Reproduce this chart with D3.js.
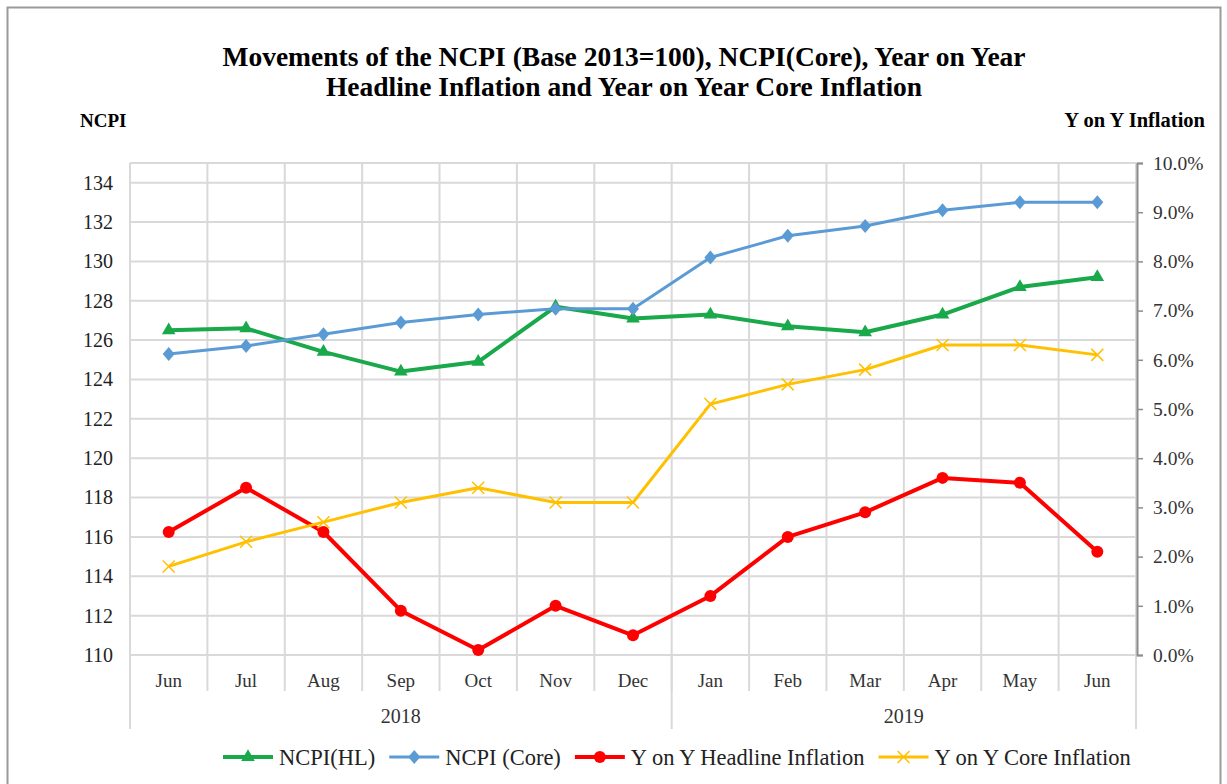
<!DOCTYPE html>
<html>
<head>
<meta charset="utf-8">
<script src="https://cdn.jsdelivr.net/npm/d3@7"></script>
<style>
  body { margin: 0; background: #fff; }
  svg { font-family: "Liberation Serif", "Times New Roman", serif; }
</style>
</head>
<body>
<svg id="chart" width="1227" height="784"></svg>
<script>
// data
var months = ["Jun", "Jul", "Aug", "Sep", "Oct", "Nov", "Dec", "Jan", "Feb", "Mar", "Apr", "May", "Jun"];
var years = [{label: "2018", from: 0, to: 6}, {label: "2019", from: 7, to: 12}];
var ncpiHL = [126.5, 126.6, 125.4, 124.4, 124.9, 127.7, 127.1, 127.3, 126.7, 126.4, 127.3, 128.7, 129.2];
var ncpiCore = [125.3, 125.7, 126.3, 126.9, 127.3, 127.6, 127.6, 130.2, 131.3, 131.8, 132.6, 133.0, 133.0];
var yoyHeadline = [2.5, 3.4, 2.5, 0.9, 0.1, 1.0, 0.4, 1.2, 2.4, 2.9, 3.6, 3.5, 2.1];
var yoyCore = [1.8, 2.3, 2.7, 3.1, 3.4, 3.1, 3.1, 5.1, 5.5, 5.8, 6.3, 6.3, 6.1];
var leftTicks = d3.range(110, 135, 2);
var rightTicks = d3.range(0, 11, 1);

var svg = d3.select("#chart");

var margin = {top: 163, right: 91, bottom: 129, left: 130},
    width = 1227 - margin.left - margin.right,
    height = 784 - margin.top - margin.bottom;

// outer frame
svg.append("rect")
    .attr("x", 7.5).attr("y", 7.5)
    .attr("width", 1213).attr("height", 800)
    .attr("fill", "none")
    .attr("stroke", "#9a9a9a")
    .attr("stroke-width", 2);

// titles
svg.append("text")
    .attr("x", 624).attr("y", 66)
    .attr("text-anchor", "middle")
    .style("font-size", "27.5px").style("font-weight", "bold")
    .text("Movements of the NCPI (Base 2013=100), NCPI(Core), Year on Year");
svg.append("text")
    .attr("x", 624).attr("y", 96)
    .attr("text-anchor", "middle")
    .style("font-size", "27.5px").style("font-weight", "bold")
    .text("Headline Inflation and Year on Year Core Inflation");
svg.append("text")
    .attr("x", 80).attr("y", 127)
    .style("font-size", "19px").style("font-weight", "bold")
    .text("NCPI");
svg.append("text")
    .attr("x", 1205).attr("y", 127)
    .attr("text-anchor", "end")
    .style("font-size", "20.5px").style("font-weight", "bold")
    .text("Y on Y Inflation");

var g = svg.append("g")
    .attr("transform", "translate(" + margin.left + "," + margin.top + ")");

var x = d3.scaleBand()
    .domain(d3.range(months.length))
    .range([0, width]);

var yLeft = d3.scaleLinear().domain([110, 135]).range([height, 0]);
var yRight = d3.scaleLinear().domain([0, 10]).range([height, 0]);

var gridColor = "#d9d9d9";

// horizontal grid
g.selectAll(".hgrid")
    .data(leftTicks.concat([135]))
    .enter().append("line")
    .attr("x1", 0).attr("x2", width)
    .attr("y1", (d) => yLeft(d)).attr("y2", (d) => yLeft(d))
    .attr("stroke", gridColor).attr("stroke-width", 2);

// vertical grid (band boundaries) inside plot
g.selectAll(".vgrid")
    .data(d3.range(months.length + 1))
    .enter().append("line")
    .attr("x1", (d) => d === months.length ? width : x(d))
    .attr("x2", (d) => d === months.length ? width : x(d))
    .attr("y1", 0).attr("y2", height)
    .attr("stroke", gridColor).attr("stroke-width", 2);

// month separators below plot
g.selectAll(".msep")
    .data(d3.range(1, months.length))
    .enter().append("line")
    .attr("x1", (d) => x(d)).attr("x2", (d) => x(d))
    .attr("y1", height).attr("y2", height + 36)
    .attr("stroke", gridColor).attr("stroke-width", 2);

// year separators
var yearEdges = [0, x(years[1].from), width];
g.selectAll(".ysep")
    .data(yearEdges)
    .enter().append("line")
    .attr("x1", (d) => d).attr("x2", (d) => d)
    .attr("y1", height).attr("y2", height + 74)
    .attr("stroke", gridColor).attr("stroke-width", 2);

// month labels
g.selectAll(".mlabel")
    .data(months)
    .enter().append("text")
    .attr("x", (d, i) => x(i) + x.bandwidth() / 2)
    .attr("y", height + 32)
    .attr("text-anchor", "middle")
    .style("font-size", "19px").attr("fill", "#333")
    .text((d) => d);

// year labels
g.selectAll(".ylabel")
    .data(years)
    .enter().append("text")
    .attr("x", (d) => (x(d.from) + x(d.to) + x.bandwidth()) / 2)
    .attr("y", height + 68)
    .attr("text-anchor", "middle")
    .style("font-size", "20px").attr("fill", "#333")
    .text((d) => d.label);

// left axis
var leftAxis = g.append("g")
    .call(d3.axisLeft(yLeft).tickValues(leftTicks).tickSize(0).tickPadding(17));
leftAxis.select(".domain").remove();
leftAxis.selectAll("text")
    .style("font-size", "20px")
    .style("font-family", "Liberation Serif, serif")
    .attr("fill", "#222");

// right axis
var rightAxis = g.append("g")
    .attr("transform", "translate(" + (width + 1) + ",0)")
    .call(d3.axisRight(yRight).tickValues(rightTicks).tickSizeOuter(0).tickSize(6).tickPadding(10)
        .tickFormat((d) => d.toFixed(1) + "%"));
rightAxis.select(".domain").attr("stroke", "#8c8c8c").attr("stroke-width", 2);
rightAxis.selectAll("line").attr("stroke", "#8c8c8c").attr("stroke-width", 1.5);
rightAxis.selectAll("text")
    .style("font-size", "19.5px")
    .style("font-family", "Liberation Serif, serif")
    .attr("fill", "#333");

var cx = (i) => x(i) + x.bandwidth() / 2;

var series = [
    {name: "NCPI(HL)", values: ncpiHL, scale: yLeft, color: "#19a84a", width: 4, marker: "triangle"},
    {name: "NCPI (Core)", values: ncpiCore, scale: yLeft, color: "#5b9bd5", width: 3, marker: "diamond"},
    {name: "Y on Y Headline Inflation", values: yoyHeadline, scale: yRight, color: "#ff0000", width: 4, marker: "circle"},
    {name: "Y on Y Core Inflation", values: yoyCore, scale: yRight, color: "#ffc000", width: 3, marker: "cross"}
];

function drawMarker(sel, s) {
    if (s.marker === "triangle") {
        sel.append("path").attr("d", d3.symbol(d3.symbolTriangle, 80)())
            .attr("fill", s.color);
    } else if (s.marker === "diamond") {
        sel.append("path").attr("d", "M0,-7L6,0L0,7L-6,0Z")
            .attr("fill", s.color);
    } else if (s.marker === "circle") {
        sel.append("circle").attr("r", 6).attr("fill", s.color);
    } else {
        sel.append("path").attr("d", "M-6,-6L6,6M-6,6L6,-6")
            .attr("stroke", s.color).attr("stroke-width", 1.5).attr("fill", "none");
    }
}

series.forEach(function(s) {
    var line = d3.line()
        .x((d, i) => cx(i))
        .y((d) => s.scale(d));
    g.append("path")
        .datum(s.values)
        .attr("d", line)
        .attr("fill", "none")
        .attr("stroke", s.color)
        .attr("stroke-width", s.width)
        .attr("stroke-linejoin", "round");
    g.selectAll(null)
        .data(s.values)
        .enter().append("g")
        .attr("transform", (d, i) => "translate(" + cx(i) + "," + s.scale(d) + ")")
        .each(function() { drawMarker(d3.select(this), s); });
});

// legend, laid out left to right from measured text widths
var legend = svg.append("g").attr("transform", "translate(0,757)");
var lx = 223;
series.forEach(function(s) {
    var lg = legend.append("g");
    lg.append("line")
        .attr("x1", lx).attr("x2", lx + 50)
        .attr("y1", 0).attr("y2", 0)
        .attr("stroke", s.color).attr("stroke-width", s.width);
    var m = lg.append("g").attr("transform", "translate(" + (lx + 25) + ",0)");
    drawMarker(m, s);
    var t = lg.append("text")
        .attr("x", lx + 56).attr("y", 8)
        .style("font-size", "22.5px").attr("fill", "#222")
        .text(s.name);
    lx += 56 + t.node().getComputedTextLength() + 14;
});
</script>
</body>
</html>
